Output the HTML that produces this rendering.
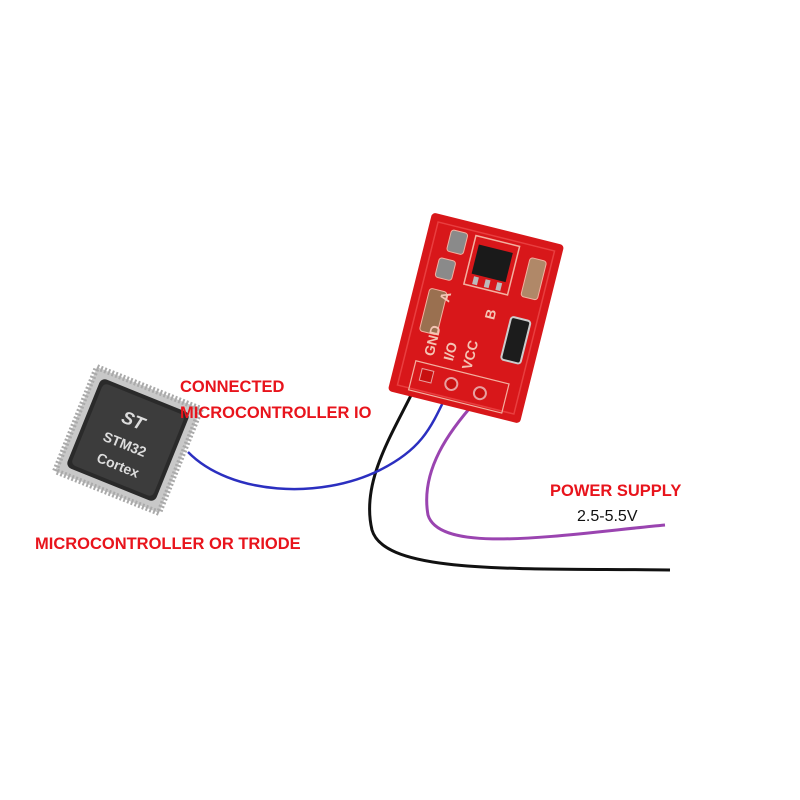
<!DOCTYPE html>
<html><head><style>
body{margin:0;width:800px;height:800px;background:#fff;position:relative;overflow:hidden;font-family:"Liberation Sans",sans-serif}
.t{position:absolute;color:#e8141c;font-weight:bold;font-size:17px;white-space:nowrap;transform-origin:left top;transform:scaleX(0.97)}
</style></head><body>
<svg width="800" height="800" style="position:absolute;left:0;top:0">
<path d="M416,385 C395,430 360,480 372,530 C385,575 520,568 670,570" stroke="#111" stroke-width="3" fill="none"/>
<path d="M446,396 C430,430 420,450 380,470 C320,500 230,495 188,452" stroke="#2b2fc0" stroke-width="2.5" fill="none"/>
<path d="M476,401 C450,430 420,470 428,515 C440,555 560,535 665,525" stroke="#9a44b0" stroke-width="3" fill="none"/>
<g transform="translate(476,318) rotate(14)">
<rect x="-68" y="-92" width="136" height="184" rx="4" fill="#d8171a"/>
<rect x="-60" y="-84" width="120" height="168" fill="none" stroke="#f05050" stroke-width="1.5" opacity=".7"/>
<rect x="-45" y="-80" width="17" height="22" rx="3" fill="#8a8a8a" stroke="#f3b0a0"/>
<rect x="-50" y="-50" width="17" height="20" rx="3" fill="#8a8a8a" stroke="#f3b0a0"/>
<rect x="-52" y="-18" width="18" height="44" rx="3" fill="#9a7050" stroke="#f3b0a0"/>
<rect x="-20" y="-80" width="45" height="50" fill="none" stroke="#f3b0a0" stroke-width="1.5"/>
<rect x="-15" y="-72" width="35" height="30" fill="#1a1a1a"/>
<rect x="-12" y="-40" width="5" height="8" fill="#bbb"/><rect x="0" y="-40" width="5" height="8" fill="#bbb"/><rect x="12" y="-40" width="5" height="8" fill="#bbb"/>
<rect x="38" y="-72" width="17" height="40" rx="3" fill="#b08868" stroke="#f3b0a0"/>
<rect x="34" y="-10" width="20" height="44" rx="3" fill="#1c1c1c" stroke="#ccc" stroke-width="2"/>
<text x="-30" y="-8" fill="#f4c4b4" font-size="14" font-weight="bold" transform="rotate(-90 -30 -8)">A</text>
<text x="18" y="-2" fill="#f4c4b4" font-size="14" font-weight="bold" transform="rotate(-90 18 -2)">B</text>
<text x="-32" y="48" fill="#f4c4b4" font-size="14" font-weight="bold" transform="rotate(-90 -32 48)">GND</text>
<text x="-12" y="48" fill="#f4c4b4" font-size="14" font-weight="bold" transform="rotate(-90 -12 48)">I/O</text>
<text x="8" y="52" fill="#f4c4b4" font-size="14" font-weight="bold" transform="rotate(-90 8 52)">VCC</text>
<rect x="-48" y="56" width="96" height="30" fill="none" stroke="#f3b0a0" stroke-width="1.2"/>
<rect x="-40" y="62" width="12" height="12" fill="#c81010" stroke="#e8a0a0"/>
<circle cx="-8" cy="70" r="6" fill="#c81010" stroke="#e8a0a0" stroke-width="2"/>
<circle cx="22" cy="72" r="6" fill="#c81010" stroke="#e8a0a0" stroke-width="2"/>
</g>
<g transform="translate(128,440) rotate(22)">
<rect x="-56" y="-56" width="112" height="112" fill="#c8c8c8" stroke="#aaa" stroke-dasharray="2 2" stroke-width="6"/>
<rect x="-48" y="-48" width="96" height="96" rx="6" fill="#2a2a2a"/>
<rect x="-44" y="-44" width="88" height="88" rx="5" fill="#3c3c3c"/>
<text x="-14" y="-14" fill="#ddd" font-size="18" font-weight="bold" font-style="italic">ST</text>
<text x="-24" y="10" fill="#ddd" font-size="14" font-weight="bold">STM32</text>
<text x="-22" y="32" fill="#ddd" font-size="14" font-weight="bold">Cortex</text>
</g>
</svg>
<div class="t" style="left:180px;top:377px">CONNECTED</div>
<div class="t" style="left:180px;top:403px">MICROCONTROLLER IO</div>
<div class="t" style="left:35px;top:534px">MICROCONTROLLER OR TRIODE</div>
<div class="t" style="left:550px;top:481px">POWER SUPPLY</div>
<div class="t" style="left:577px;top:508px;color:#111;font-weight:normal;transform:none;font-size:16px">2.5-5.5V</div>
</body></html>
